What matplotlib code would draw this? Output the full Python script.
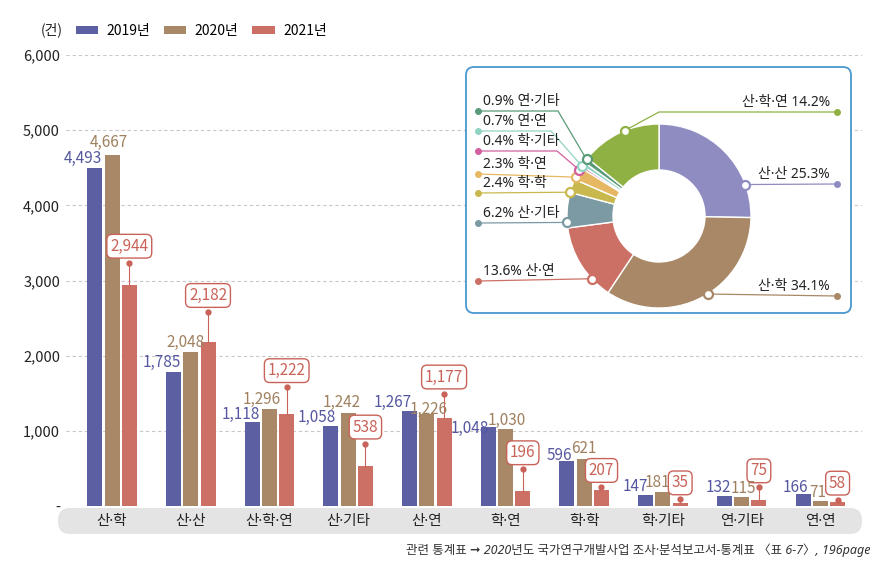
import matplotlib
matplotlib.use('Agg')
import matplotlib.pyplot as plt
from matplotlib.patches import FancyBboxPatch
import numpy as np

plt.rcParams['font.family'] = ['Noto Sans CJK KR', 'DejaVu Sans']
NAME_FONT = ['Noto Sans', 'Noto Sans CJK KR', 'DejaVu Sans']

# ---------------- data ----------------
categories = ['산·학', '산·산', '산·학·연', '산·기타', '산·연', '학·연', '학·학', '학·기타', '연·기타', '연·연']
years = ['2019년', '2020년', '2021년']
v2019 = [4493, 1785, 1118, 1058, 1267, 1048, 596, 147, 132, 166]
v2020 = [4667, 2048, 1296, 1242, 1226, 1030, 621, 181, 115, 71]
v2021 = [2944, 2182, 1222, 538, 1177, 196, 207, 35, 75, 58]
yticks = [0, 1000, 2000, 3000, 4000, 5000, 6000]
ytick_labels = ['-', '1,000', '2,000', '3,000', '4,000', '5,000', '6,000']

share_names = ['산·산', '산·학', '산·연', '산·기타', '학·학', '학·연', '학·기타', '연·연', '연·기타', '산·학·연']
share_pct = [25.3, 34.1, 13.6, 6.2, 2.4, 2.3, 0.4, 0.7, 0.9, 14.2]
unit_label = '(건)'
source = '관련 통계표 ➞ 2020년도 국가연구개발사업 조사·분석보고서-통계표 〈표 6-7〉, 196page'

# ---------------- style / layout ----------------
W, H = 892, 563
C19, C20, C21 = '#5d5fa3', '#a88866', '#cc7066'
T19, T20, T21 = '#5558a0', '#a0805f', '#c96258'
pie_colors = ['#8f8cc1', '#a88866', '#cc7066', '#7c9aa4', '#c9b84e',
              '#e6b863', '#d2609e', '#93d3c3', '#5b9a78', '#8fb143']

AX_L, AX_R, Y0, YTOP = 66, 862, 506, 55
CAT_PX = 78.7
first_center_px = 112
bw = 15 / CAT_PX
off = 17.3 / CAT_PX

# label offsets in pixels (layout only)
lab19_dx = [0, 0, 0, -2, -5, -7, -2, -5, -1, -2]
lab19_dy = [5, 5, 3, 5, 4, -6, 1, 4, 4, 2]
lab20_dx = [-3.5, -5, -7.5, -6, 1.5, 1, 0, -5, 1.5, -3]
lab20_dy = [8.7, 4.7, 5, 6, 0, 4, 6, 5, 4, 4]
lead21 = [22, 30, 27, 22, 24, 22, 3.5, 4, 13, 2]

fig = plt.figure(figsize=(W / 100, H / 100), dpi=100)
fig.patch.set_facecolor('white')

# background axes (category band)
bg = fig.add_axes([0, 0, 1, 1], zorder=0)
bg.set_xlim(0, W)
bg.set_ylim(0, H)
bg.axis('off')
bg.add_patch(FancyBboxPatch((58, H - 534), 804, 26,
                            boxstyle='round,pad=0,rounding_size=12',
                            fc='#e4e4e4', ec='none'))

# main bar axes
ax = fig.add_axes([AX_L / W, (H - Y0) / H, (AX_R - AX_L) / W, (Y0 - YTOP) / H], zorder=1)
ax.patch.set_alpha(0)
x0 = -(first_center_px - AX_L) / CAT_PX
ax.set_xlim(x0, x0 + (AX_R - AX_L) / CAT_PX)
ax.set_ylim(0, 6000)
dpp = 6000 / (Y0 - YTOP)      # data units per pixel (y)
xpp = 1 / CAT_PX              # data units per pixel (x)

x = np.arange(len(categories))
b1 = ax.bar(x - off, v2019, bw, color=C19, zorder=2)
b2 = ax.bar(x, v2020, bw, color=C20, zorder=2)
b3 = ax.bar(x + off, v2021, bw, color=C21, zorder=2)

for s in ax.spines.values():
    s.set_visible(False)
ax.set_yticks(yticks)
ax.set_yticklabels(ytick_labels)
ax.set_xticks(x)
ax.set_xticklabels(categories)
for lbl in ax.get_xticklabels():
    lbl.set_fontfamily(NAME_FONT)
ax.tick_params(axis='y', length=0, pad=4.3, labelsize=10.5, labelcolor='#222222')
ax.tick_params(axis='x', length=0, pad=6.0, labelsize=10.5, labelcolor='#222222')
ax.set_axisbelow(True)
ax.yaxis.grid(True, linestyle=(0, (3, 2.5)), color='#c8c8c8', lw=0.8)
ax.get_ygridlines()[0].set_visible(False)

for i in range(len(categories)):
    # 2019
    xr = x[i] - off + bw / 2 + lab19_dx[i] * xpp
    ax.text(xr, v2019[i] + lab19_dy[i] * dpp, f'{v2019[i]:,}', ha='right', va='baseline',
            fontsize=11, color=T19, zorder=4)
    # 2020
    ax.text(x[i] + lab20_dx[i] * xpp, v2020[i] + lab20_dy[i] * dpp, f'{v2020[i]:,}',
            ha='center', va='baseline', fontsize=11, color=T20, zorder=6)
    # 2021 with leader + boxed label
    xc = x[i] + off
    top = v2021[i] + lead21[i] * dpp
    ax.plot([xc, xc], [v2021[i], top], color=T21, lw=0.8, zorder=3)
    ax.plot([xc], [top], 'o', color=T21, ms=3.5, zorder=3)
    ax.text(xc, top + 16.5 * dpp, f'{v2021[i]:,}', ha='center', va='center',
            fontsize=11, color=T21, zorder=5,
            bbox=dict(boxstyle='round,pad=0.22,rounding_size=0.35', fc='white',
                      ec=T21, lw=1.0))

ax.legend([b1, b2, b3], years, loc='center left', bbox_to_anchor=(76 / W, 1 - 31 / H),
          bbox_transform=fig.transFigure, ncol=3, frameon=False, handlelength=1.6,
          handleheight=0.5, handletextpad=0.6, columnspacing=1.0, borderpad=0,
          borderaxespad=0, fontsize=10)

fig.text(52 / W, 1 - 30 / H, unit_label, ha='center', va='center', fontsize=10, color='#222222')
fig.text(870 / W, 1 - 550 / H, source, ha='right', va='center', fontsize=9,
         style='italic', color='#333333', family=NAME_FONT)

# foreground axes: donut panel
fg = fig.add_axes([0, 0, 1, 1], zorder=3)
fg.add_patch(FancyBboxPatch((466, H - 313), 385, 246,
                            boxstyle='round,pad=0,rounding_size=8',
                            fc='white', ec='#4b97cf', lw=1.3, zorder=0))
CX, CY, R = 659, H - 216, 92
fg.pie(share_pct, colors=pie_colors, startangle=90, counterclock=False, radius=R,
       center=(CX, CY), wedgeprops=dict(width=46, edgecolor='white', linewidth=1))
fg.set_xlim(0, W)
fg.set_ylim(0, H)
fg.set_aspect('auto')
fg.axis('off')

mk_ang = [70, 148, 227, 266, 285, 295, 300, 303, 308, 338]   # clockwise from top
dot_y = [184, 296, 281, 223, 193, 174, 151, 131, 111, 112]   # label line rows
elbow_x = [None, None, None, None, None, None, 557, 551, 558, 659]
right_side = [True, True, False, False, False, False, False, False, False, True]

for k in range(len(share_pct)):
    col = pie_colors[k]
    th = np.deg2rad(90 - mk_ang[k])
    mx, my = CX + R * np.cos(th), CY + R * np.sin(th)
    dy = H - dot_y[k]
    dx = 837 if right_side[k] else 478
    if elbow_x[k] is not None:
        xs, ys = [mx, elbow_x[k], dx], [my, dy, dy]
    else:
        xs, ys = [mx, dx], [my, dy]
    fg.plot(xs, ys, color=col, lw=0.9, zorder=4)
    fg.plot([dx], [dy], 'o', color=col, ms=4, zorder=5)
    fg.plot([mx], [my], 'o', mfc='white', mec=col, mew=1.6, ms=6.5, zorder=6)
    if right_side[k]:
        fg.text(830, dy + 2, f'{share_names[k]} {share_pct[k]}%', ha='right', va='bottom',
                fontsize=10, color='#222222', zorder=6, family=NAME_FONT)
    else:
        fg.text(483, dy + 2, f'{share_pct[k]}% {share_names[k]}', ha='left', va='bottom',
                fontsize=10, color='#222222', zorder=6, family=NAME_FONT)

fig.savefig('out.png', dpi=100, facecolor='white')
